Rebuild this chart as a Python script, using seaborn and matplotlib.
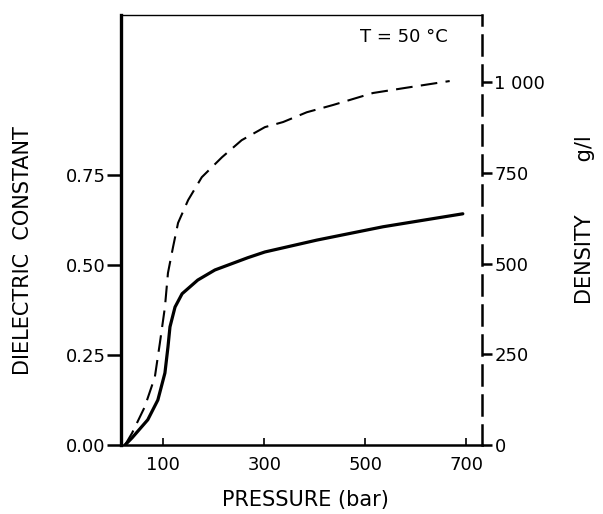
import matplotlib
matplotlib.use("Agg")
import matplotlib.pyplot as plt
import seaborn as sns
import pandas as pd

# ---- data ----
pressure_dielectric = [24, 38, 69, 89, 103, 109, 113, 123, 137, 168, 202, 267, 301, 404, 535, 693]
dielectric_constant = [0.0, 0.02, 0.07, 0.125, 0.20, 0.272, 0.328, 0.383, 0.42, 0.458, 0.486,
                       0.52, 0.536, 0.569, 0.606, 0.642]
pressure_density = [24, 38, 63, 83, 93, 103, 109, 119, 129, 149, 176, 216, 255, 301, 337,
                    384, 436, 515, 574, 667]
density = [0, 33, 105, 187, 281, 380, 474, 545, 612, 675, 738, 793, 840, 876, 890,
           917, 937, 970, 983, 1003]
x_ticks = [100, 300, 500, 700]
left_ticks = [0.0, 0.25, 0.5, 0.75]
left_tick_labels = ["0.00", "0.25", "0.50", "0.75"]
right_ticks = [0, 250, 500, 750, 1000]
right_tick_labels = ["0", "250", "500", "750", "1 000"]

df_d = pd.DataFrame({"p": pressure_dielectric, "v": dielectric_constant})
df_r = pd.DataFrame({"p": pressure_density, "v": density})

sns.set_style("ticks")
plt.rcParams["font.family"] = ["DejaVu Sans"]
plt.rcParams["text.color"] = "black"
plt.rcParams["axes.labelcolor"] = "black"
plt.rcParams["xtick.color"] = "black"
plt.rcParams["ytick.color"] = "black"

fig = plt.figure(figsize=(6.03, 5.14), dpi=100)
ax = fig.add_axes([121 / 603, 1 - 445 / 514, (482 - 121) / 603, (445 - 15) / 514])
ax2 = ax.twinx()

sns.lineplot(data=df_d, x="p", y="v", ax=ax, color="black", lw=2.3, sort=False)
sns.lineplot(data=df_r, x="p", y="v", ax=ax2, color="black", lw=1.5, sort=False,
             dashes=False)
ax2.lines[0].set_dashes((8, 4))

ax.set_xlim(16, 731)
ax.set_ylim(0, 1.194)
ax2.set_ylim(0, 1185)

ax.set_xticks(x_ticks)
ax.set_xticklabels([str(t) for t in x_ticks])
ax.set_yticks(left_ticks)
ax.set_yticklabels(left_tick_labels)
ax2.set_yticks(right_ticks)
ax2.set_yticklabels(right_tick_labels)

ax.tick_params(axis="x", direction="in", length=5, width=1.2, labelsize=13, pad=8)
ax.tick_params(axis="y", direction="out", length=10, width=1.8, labelsize=13, pad=1)
ax2.tick_params(axis="y", direction="out", length=7, width=1.8, labelsize=13, pad=2)

for a in (ax, ax2):
    for s in a.spines.values():
        s.set_color("black")
ax.spines["left"].set_linewidth(2.4)
ax.spines["bottom"].set_linewidth(1.8)
ax.spines["top"].set_linewidth(1.0)
ax.spines["right"].set_visible(False)
ax2.spines["left"].set_visible(False)
ax2.spines["bottom"].set_visible(False)
ax2.spines["top"].set_visible(False)
ax2.spines["right"].set_linewidth(1.8)
ax2.spines["right"].set_linestyle((0, (8, 4)))

ax.set_xlabel("PRESSURE (bar)", fontsize=15)
ax.set_ylabel("DIELECTRIC  CONSTANT", fontsize=15)
ax2.set_ylabel("DENSITY        g/l", fontsize=15)
ax.xaxis.set_label_coords(0.512, -0.105)
ax.yaxis.set_label_coords(-0.244, 0.453)
ax2.yaxis.set_label_coords(1.258, 0.523)

ax.text(0.905, 0.97, "T = 50 °C", transform=ax.transAxes, ha="right", va="top", fontsize=13)

fig.savefig("out.png", dpi=100)
